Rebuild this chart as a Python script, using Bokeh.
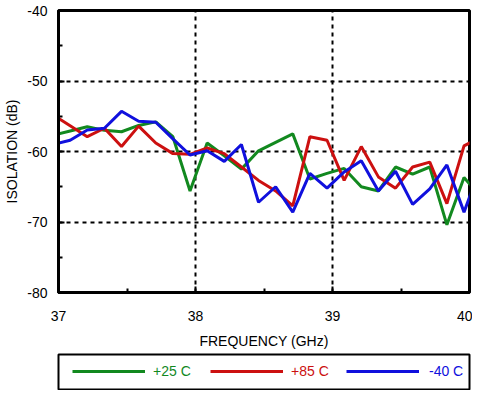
from bokeh.plotting import figure
from bokeh.layouts import column
from bokeh.models import Legend, LegendItem, FixedTicker, Range1d
from bokeh.embed import file_html
from bokeh.resources import INLINE

# ---- data ----
freq_ghz = [36.96, 37.085, 37.21, 37.335, 37.46, 37.585, 37.71, 37.835, 37.96,
            38.085, 38.21, 38.335, 38.46, 38.585, 38.71, 38.835, 38.96,
            39.085, 39.21, 39.335, 39.46, 39.585, 39.71, 39.835, 39.96, 40.085]
iso_p25 = [-57.7, -57.1, -56.5, -57.0, -57.2, -56.3, -55.8, -57.9, -65.6,
           -58.8, -60.6, -62.5, -59.9, -58.7, -57.5, -63.9, -63.1,
           -62.4, -65.0, -65.6, -62.2, -63.2, -62.2, -70.4, -63.7, -66.5]
iso_p85 = [-54.8, -56.35, -57.9, -56.7, -59.3, -56.4, -58.8, -60.3, -60.4,
           -59.5, -60.3, -62.2, -64.1, -65.6, -67.7, -57.9, -58.4,
           -64.1, -59.3, -63.6, -65.2, -62.2, -61.5, -67.4, -59.2, -57.95]
iso_m40 = [-59.0, -58.4, -56.95, -56.7, -54.3, -55.7, -55.85, -58.2, -60.5,
           -59.9, -61.4, -59.0, -67.2, -65.0, -68.6, -63.1, -65.2,
           -62.9, -61.3, -65.6, -62.8, -67.5, -65.3, -61.9, -68.6, -62.0]
series_names = ["+25 C", "+85 C", "-40 C"]
series_colors = ["#12891f", "#cc1010", "#1010dd"]
series_values = [iso_p25, iso_p85, iso_m40]
x_ticks = [37, 38, 39, 40]
x_minor = [37.5, 38.5, 39.5]
y_ticks = [-80, -70, -60, -50, -40]
y_minor = [-75, -65, -55, -45]

FONT = "Liberation Sans"

p = figure(width=472, height=352, output_backend="svg", toolbar_location=None,
           x_range=Range1d(37, 40), y_range=Range1d(-80, -40),
           min_border_left=58, min_border_right=3, min_border_top=10,
           min_border_bottom=60, background_fill_color="white",
           border_fill_color="white")

p.outline_line_color = "black"
p.outline_line_width = 3
p.outline_line_alpha = 1

for ax in (p.xaxis[0], p.yaxis[0]):
    ax.axis_line_width = 3
    ax.axis_line_color = "black"
    ax.major_tick_in = 6
    ax.major_tick_out = 0
    ax.minor_tick_in = 4
    ax.minor_tick_out = 0
    ax.major_tick_line_width = 2
    ax.minor_tick_line_width = 2
    ax.major_label_text_font = FONT
    ax.major_label_text_font_size = "14px"
    ax.major_label_text_color = "black"
    ax.axis_label_text_font = FONT
    ax.axis_label_text_font_size = "14px"
    ax.axis_label_text_font_style = "normal"
    ax.axis_label_text_color = "black"

p.xaxis[0].ticker = FixedTicker(ticks=x_ticks, minor_ticks=x_minor)
p.yaxis[0].ticker = FixedTicker(ticks=y_ticks, minor_ticks=y_minor)
p.yaxis[0].major_label_overrides = {t: str(t) for t in y_ticks}
p.xaxis[0].axis_label = "FREQUENCY (GHz)"
p.yaxis[0].axis_label = "ISOLATION (dB)"
p.xaxis[0].major_label_standoff = 18
p.xaxis[0].axis_label_standoff = 9
p.yaxis[0].major_label_standoff = 11
p.yaxis[0].axis_label_standoff = 4

for g in (p.xgrid[0], p.ygrid[0]):
    g.grid_line_color = "black"
    g.grid_line_width = 2
    g.grid_line_dash = "4 4"
p.xgrid[0].ticker = FixedTicker(ticks=x_ticks)
p.ygrid[0].ticker = FixedTicker(ticks=y_ticks)

for vals, col in zip(series_values, series_colors):
    p.line(freq_ghz, vals, line_color=col, line_width=3)

# ---- legend panel (boxed, below the chart) ----
lg = figure(width=472, height=38, output_backend="svg", toolbar_location=None,
            x_axis_type=None, y_axis_type=None,
            x_range=Range1d(0, 1), y_range=Range1d(0, 1),
            min_border_left=51, min_border_right=1, min_border_top=2,
            min_border_bottom=1, background_fill_color="white",
            border_fill_color="white")
lg.outline_line_color = "black"
lg.outline_line_width = 2
lg.outline_line_alpha = 1

legend_x = [14, 152, 288]
legend_standoff = [8, 8, 10]
for name, col, vals, lx, so in zip(series_names, series_colors, series_values,
                                   legend_x, legend_standoff):
    # the series itself lies outside this panel's range, so only its legend swatch shows
    proxy = lg.line(freq_ghz, vals, line_color=col, line_width=3)
    lg.add_layout(Legend(items=[LegendItem(label=name, renderers=[proxy])],
                         location=(lx, 10), orientation="horizontal",
                         padding=0, margin=0, spacing=0,
                         border_line_alpha=0, background_fill_alpha=0,
                         glyph_width=73, glyph_height=16, label_height=16,
                         label_standoff=so, label_text_color=col,
                         label_text_font=FONT, label_text_font_size="14px"),
                  "center")

layout = column(p, lg, spacing=0)
open("out.html", "w").write(file_html(layout, INLINE))
